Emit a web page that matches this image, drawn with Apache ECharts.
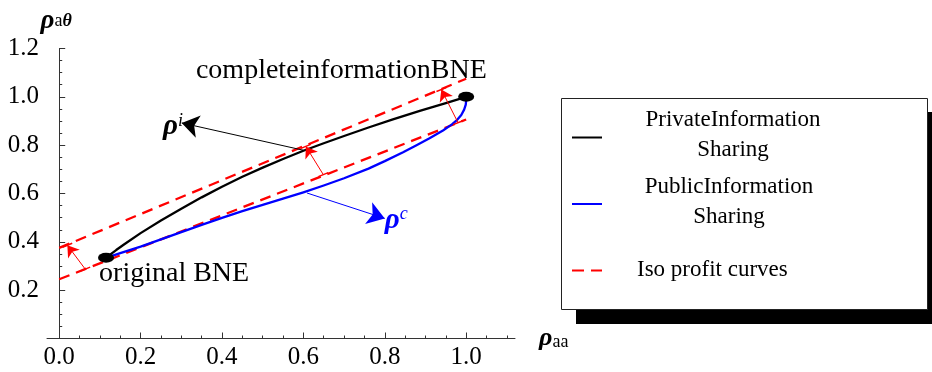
<!DOCTYPE html>
<html><head><meta charset="utf-8">
<script src="https://cdn.jsdelivr.net/npm/echarts@6/dist/echarts.min.js"></script>
<style>html,body{margin:0;padding:0;background:#fff}#c{width:932px;height:372px}</style>
</head><body><div id="c"></div>
<script>
// ---- data ----
const xMajorTicks = [0, 0.2, 0.4, 0.6, 0.8, 1.0];
const xMinorTicks = [0.05,0.1,0.15,0.25,0.3,0.35,0.45,0.5,0.55,0.65,0.7,0.75,0.85,0.9,0.95,1.05,1.1];
const seriesNames = ['PrivateInformation\nSharing', 'PublicInformation\nSharing', 'Iso profit curves'];
const privateCurve = [[0.115,0.334],[0.125,0.347],[0.14,0.366],[0.16,0.39],[0.2,0.436],[0.25,0.488],[0.3,0.537],[0.35,0.584],[0.4,0.628],[0.45,0.669],[0.5,0.707],[0.55,0.743],[0.6,0.777],[0.65,0.808],[0.7,0.838],[0.76,0.873],[0.82,0.907],[0.886,0.942],[0.95,0.974],[1.0,1.0]];
const publicCurve = [[0.115,0.334],[0.15,0.353],[0.2,0.38],[0.25,0.41],[0.3,0.44],[0.35,0.47],[0.4,0.499],[0.45,0.527],[0.5,0.553],[0.55,0.579],[0.6,0.605],[0.65,0.633],[0.7,0.663],[0.76,0.703],[0.8,0.734],[0.845,0.771],[0.878,0.8],[0.91,0.829],[0.943,0.861],[0.965,0.886],[0.978,0.905],[0.988,0.925],[0.995,0.947],[0.999,0.968],[1.0,0.985],[1.0,1.0]];
const isoUpper = [[0.0,0.375],[1.0,1.075]];
const isoLower = [[0.0,0.245],[1.0,0.906]];
const bnePoints = [[0.115,0.334],[1.0,1.0]];
const arrowPrivate = [[0.6,0.779],[0.301,0.892]];
const arrowPublic = [[0.609,0.602],[0.8,0.497]];
const redArrows = [
  [[0.064,0.287],[0.02,0.386]],
  [[0.649,0.678],[0.606,0.795]],
  [[0.98,0.893],[0.939,1.03]]
];
const textNotes = [
  {text:'completeinformationBNE', at:[0.336,1.11]},
  {text:'original BNE', at:[0.098,0.27]}
];
const rhoNotes = [
  {sup:'i', at:[0.255,0.878], color:'#000'},
  {sup:'c', at:[0.8,0.49], color:'#0000ff'}
];

// ---- chart ----
const chart = echarts.init(document.getElementById('c'), null, {renderer:'canvas'});
const serif = 'Liberation Serif';
const axisColor = '#333';

const caps = [];
redArrows.forEach(a => {
  [a[0], a[1]].forEach(p => {
    const dx = 0.012, dy = dx * 0.68;
    caps.push({coords: [[p[0]-dx, p[1]-dy], [p[0]+dx, p[1]+dy]]});
  });
});

const option = {
  animation: false,
  backgroundColor: '#fff',
  grid: {left: 47, right: 417, top: 48.5, bottom: 33.5},
  xAxis: [{
    type: 'value', min: -0.03, max: 1.12,
    axisLine: {show: true, lineStyle: {color: axisColor, width: 1}},
    axisTick: {show: true, inside: true, length: 6, customValues: xMajorTicks, lineStyle: {color: axisColor}},
    axisLabel: {customValues: xMajorTicks, formatter: v => v.toFixed(1), fontFamily: serif, fontSize: 25, color: '#000', margin: 6},
    splitLine: {show: false},
    name: '{r|ρ}{s|aa}', nameLocation: 'end', nameGap: 24,
    nameTextStyle: {rich: {
      r: {fontFamily: serif, fontWeight: 'bold', fontStyle: 'italic', fontSize: 26, color: '#000'},
      s: {fontFamily: serif, fontSize: 18, color: '#000', verticalAlign: 'bottom', padding: [6,0,0,0]}
    }}
  }, {
    type: 'value', min: -0.03, max: 1.12, position: 'bottom', offset: 0,
    axisLine: {show: false},
    axisTick: {show: true, inside: true, length: 3, customValues: xMinorTicks, lineStyle: {color: axisColor}},
    axisLabel: {show: false}, splitLine: {show: false}
  }],
  yAxis: [{
    type: 'value', min: 0, max: 1.2, interval: 0.2,
    axisLine: {show: true, onZero: true, onZeroAxisIndex: 0, lineStyle: {color: axisColor, width: 1}},
    axisTick: {show: true, inside: true, length: 6, lineStyle: {color: axisColor}},
    minorTick: {show: true, splitNumber: 4, length: 3, lineStyle: {color: axisColor}},
    axisLabel: {formatter: v => v === 0 ? '' : v.toFixed(1), fontFamily: serif, fontSize: 25, color: '#000', margin: 8},
    splitLine: {show: false}, minorSplitLine: {show: false},
    name: '{r|ρ}{s|a}{t|θ}', nameLocation: 'end', nameGap: 14,
    nameTextStyle: {align: 'center', padding: [0, 6, 0, 0], rich: {
      r: {fontFamily: serif, fontWeight: 'bold', fontStyle: 'italic', fontSize: 27, color: '#000'},
      s: {fontFamily: serif, fontSize: 18, color: '#000'},
      t: {fontFamily: serif, fontWeight: 'bold', fontStyle: 'italic', fontSize: 18, color: '#000'}
    }}
  }],
  series: [
    {name: seriesNames[0], type: 'line', data: privateCurve, showSymbol: false, smooth: false,
     lineStyle: {color: '#000', width: 2.3, join: 'round'}, z: 4},
    {name: seriesNames[1], type: 'line', data: publicCurve, showSymbol: false, smooth: false,
     lineStyle: {color: '#0000ff', width: 2.3, join: 'round'}, z: 4},
    {name: seriesNames[2], type: 'line', data: isoUpper, showSymbol: false,
     lineStyle: {color: '#ff0000', width: 2.3, type: [11, 7]}, z: 3},
    {name: seriesNames[2] + ' 2', type: 'line', data: isoLower, showSymbol: false,
     lineStyle: {color: '#ff0000', width: 2.3, type: [11, 7]}, z: 3},
    {type: 'lines', coordinateSystem: 'cartesian2d', xAxisIndex: 0, yAxisIndex: 0,
     symbol: ['none', 'arrow'], symbolSize: [11, 17],
     lineStyle: {color: '#000', width: 1, opacity: 1},
     data: [{coords: arrowPrivate}], z: 5},
    {type: 'lines', coordinateSystem: 'cartesian2d', xAxisIndex: 0, yAxisIndex: 0,
     symbol: ['none', 'arrow'], symbolSize: [11, 17],
     lineStyle: {color: '#0000ff', width: 1, opacity: 1},
     data: [{coords: arrowPublic}], z: 5},
    {type: 'lines', coordinateSystem: 'cartesian2d', xAxisIndex: 0, yAxisIndex: 0,
     symbol: ['none', 'arrow'], symbolSize: [6, 11],
     lineStyle: {color: '#ff0000', width: 1, opacity: 1},
     data: redArrows.map(a => ({coords: a})), z: 5},
    {type: 'lines', coordinateSystem: 'cartesian2d', xAxisIndex: 0, yAxisIndex: 0,
     symbol: 'none', lineStyle: {color: '#ff0000', width: 1.5, opacity: 1},
     data: caps, z: 5},
    {type: 'scatter', data: bnePoints, symbol: 'circle', symbolSize: [16, 10],
     itemStyle: {color: '#000', opacity: 1}, z: 6},
    {type: 'scatter', symbolSize: 0, z: 7, itemStyle: {opacity: 1},
     data: textNotes.map(t => ({value: t.at, label: {formatter: t.text}})),
     label: {show: true, position: 'right', distance: 0, fontFamily: serif, fontSize: 28, color: '#000'}},
    {type: 'scatter', symbolSize: 0, z: 7, itemStyle: {opacity: 1},
     data: rhoNotes.map(t => ({value: t.at, label: {formatter: '{r|ρ}{s|' + t.sup + '}',
        rich: {r: {fontFamily: serif, fontWeight: 'bold', fontStyle: 'italic', fontSize: 29, color: t.color},
               s: {fontFamily: serif, fontStyle: 'italic', fontSize: 18, color: t.color, verticalAlign: 'top'}}}})),
     label: {show: true, position: 'right', distance: 0}}
  ],
  graphic: [{
    type: 'group', left: 561, top: 98,
    children: [
      {type: 'rect', shape: {x: 15, y: 14, width: 367, height: 212}, style: {fill: '#000'}},
      {type: 'rect', shape: {x: 0.5, y: 0.5, width: 366, height: 211}, style: {fill: '#fff', stroke: '#222', lineWidth: 1}},
      {type: 'line', shape: {x1: 11, y1: 39.5, x2: 41, y2: 39.5}, style: {stroke: '#000', lineWidth: 2}},
      {type: 'text', x: 172, y: 37, style: {text: seriesNames[0], font: '23px "Liberation Serif"', fill: '#000', align: 'center', verticalAlign: 'middle', lineHeight: 29.5}},
      {type: 'line', shape: {x1: 11, y1: 106, x2: 41, y2: 106}, style: {stroke: '#0000ff', lineWidth: 2}},
      {type: 'text', x: 168, y: 104, style: {text: seriesNames[1], font: '23px "Liberation Serif"', fill: '#000', align: 'center', verticalAlign: 'middle', lineHeight: 30.5}},
      {type: 'line', shape: {x1: 11, y1: 172.5, x2: 41, y2: 172.5}, style: {stroke: '#ff0000', lineWidth: 2, lineDash: [12, 7]}},
      {type: 'text', x: 76, y: 171.5, style: {text: seriesNames[2], font: '23px "Liberation Serif"', fill: '#000', align: 'left', verticalAlign: 'middle'}}
    ]
  }]
};
chart.setOption(option);
</script></body></html>
